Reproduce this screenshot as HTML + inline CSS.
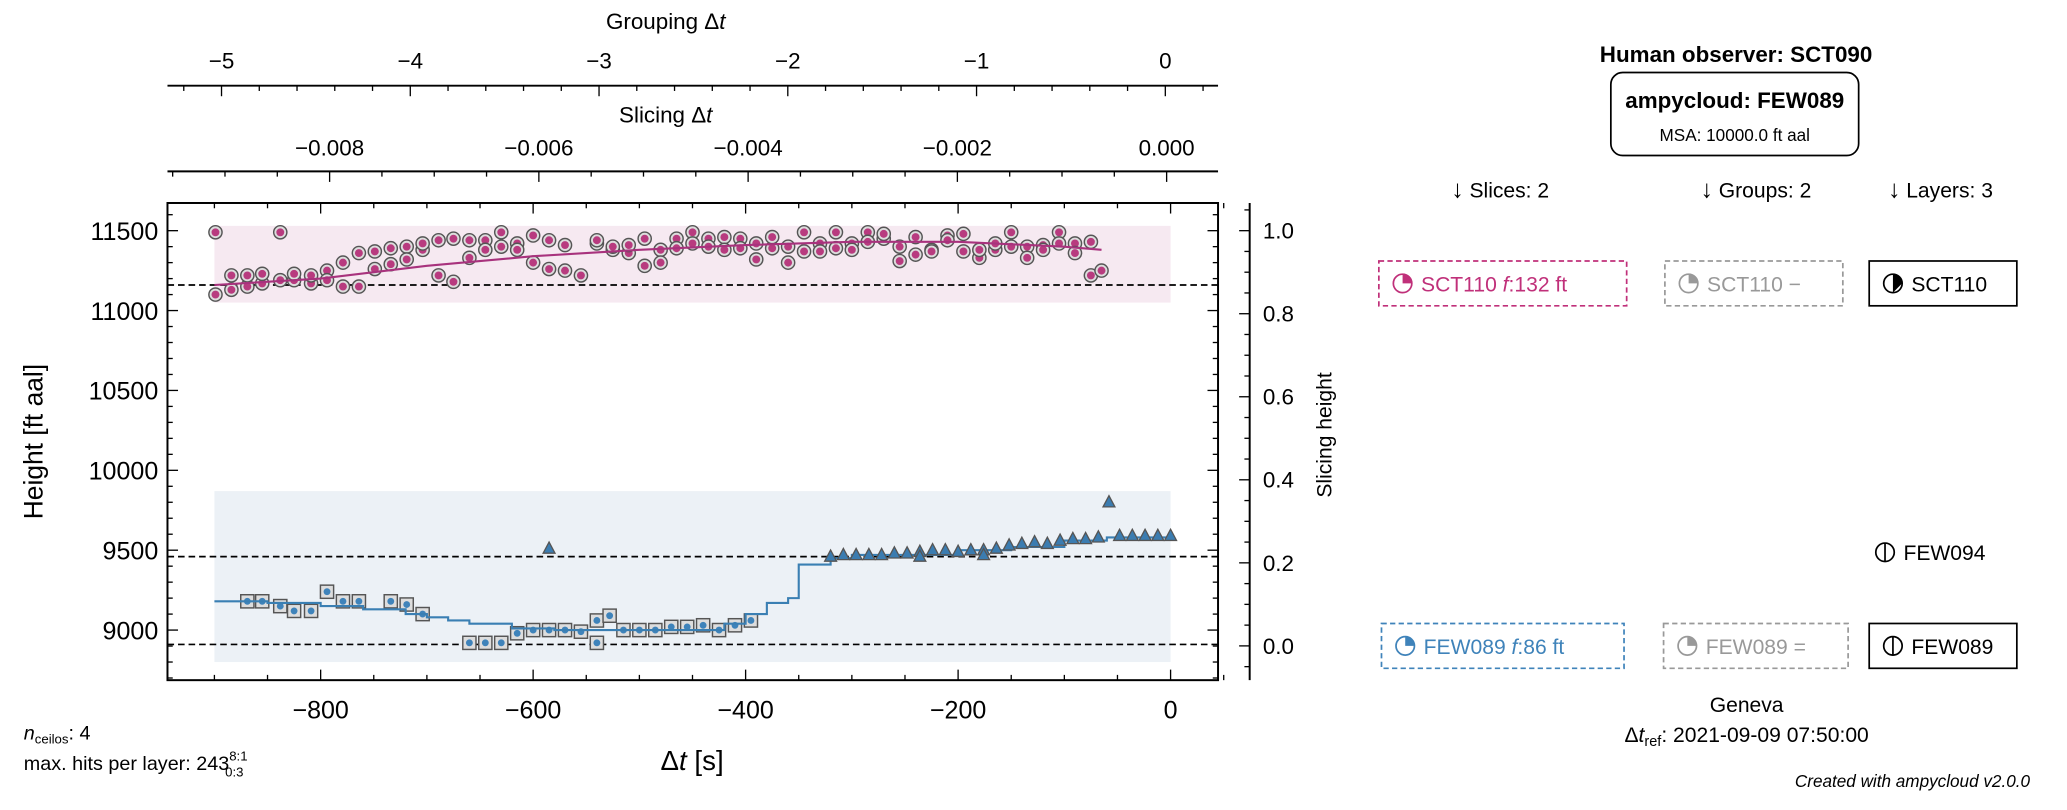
<!DOCTYPE html>
<html><head><meta charset="utf-8">
<style>
html,body{margin:0;padding:0;background:#fff;}
svg{display:block;font-family:"Liberation Sans","DejaVu Sans",sans-serif;}
</style></head>
<body>
<svg id="chart" width="2067" height="810" viewBox="0 0 1568 614.5" xmlns="http://www.w3.org/2000/svg">
<g id="bg"></g>
<g id="marks"></g>
<g id="axes"></g>
<g id="panel"></g>
</svg>
<script>
// ---- data ----
const pinkT = [-899,-899,-884,-884,-869,-869,-855,-855,-838,-838,-825,-825,-809,-809,-794,-794,-779,-779,-764,-764,-749,-749,-734,-734,-719,-719,-704,-704,-689,-689,-675,-675,-660,-660,-645,-645,-630,-630,-615,-615,-600,-600,-585,-585,-570,-570,-555,-540,-540,-525,-525,-510,-510,-495,-495,-480,-480,-465,-465,-450,-450,-435,-435,-420,-420,-405,-405,-390,-390,-375,-375,-360,-360,-345,-345,-330,-330,-315,-315,-300,-300,-285,-285,-270,-270,-255,-255,-240,-240,-225,-225,-210,-210,-195,-195,-180,-180,-165,-165,-150,-150,-135,-135,-120,-120,-105,-105,-90,-90,-75,-75,-65];
const pinkH = [11490,11100,11130,11220,11150,11220,11170,11230,11490,11190,11190,11230,11170,11220,11250,11190,11300,11150,11360,11150,11370,11260,11390,11290,11400,11320,11380,11420,11440,11220,11450,11180,11440,11330,11440,11380,11400,11490,11420,11380,11470,11300,11260,11440,11410,11250,11220,11420,11440,11380,11400,11360,11410,11280,11450,11380,11300,11450,11390,11490,11420,11450,11400,11460,11380,11450,11390,11320,11420,11390,11460,11400,11300,11490,11370,11420,11370,11490,11390,11420,11380,11490,11430,11450,11480,11310,11400,11460,11350,11380,11370,11470,11440,11370,11480,11330,11380,11380,11420,11490,11400,11400,11330,11410,11380,11490,11420,11420,11360,11430,11220,11250];
const pinkLineT = [-900,-800,-700,-600,-500,-400,-300,-200,-100,-65];
const pinkLineH = [11160,11200,11280,11340,11380,11410,11430,11430,11400,11380];
const sqT = [-869,-855,-838,-825,-809,-794,-779,-764,-734,-719,-704,-660,-645,-630,-615,-600,-585,-570,-555,-540,-528,-540,-515,-500,-485,-470,-455,-440,-425,-410,-395];
const sqH = [9180,9180,9150,9120,9120,9240,9180,9180,9180,9160,9100,8920,8920,8920,8980,9000,9000,9000,8990,9060,9090,8920,9000,9000,9000,9020,9020,9030,9000,9030,9060];
const triT = [-585,-320,-308,-296,-284,-272,-260,-248,-236,-224,-212,-200,-188,-176,-164,-152,-140,-128,-116,-104,-92,-80,-68,-58,-48,-36,-24,-12,0,-236,-176];
const triH = [9510,9460,9470,9470,9470,9470,9480,9480,9490,9500,9500,9490,9500,9500,9510,9530,9540,9550,9540,9560,9570,9570,9580,9800,9590,9590,9590,9590,9590,9460,9470];
const blueStepT = [-900,-850,-800,-760,-720,-700,-680,-660,-620,-580,-520,-440,-420,-400,-380,-360,-350,-320,-300,-200,-150,-100,-60,0];
const blueStepH = [9180,9170,9150,9130,9100,9080,9060,9040,9010,9000,9000,9000,9040,9100,9170,9200,9410,9450,9470,9500,9520,9560,9580,9590];
const dashLevels = [11160,9460,8910];
const xTicks = [-800,-600,-400,-200,0];
const yTicks = [9000,9500,10000,10500,11000,11500];
const rTicks = [0.0,0.2,0.4,0.6,0.8,1.0];
const slTicks = [-0.008,-0.006,-0.004,-0.002,0.000];
const grTicks = [-5,-4,-3,-2,-1,0];

// ---- scales ----
const L=127,R=924,T=154,B=516;
const X = t => 888 + 0.806*t;
const Y = h => 478 - (h-9000)*0.1212;
const YR = v => 490 - v*315;
const XS = v => 885 + v*79375;
const XG = v => 884 + v*143.2;

const NS="http://www.w3.org/2000/svg";
function mk(parent,tag,attrs,text){const e=document.createElementNS(NS,tag);for(const k in attrs)e.setAttribute(k,attrs[k]);if(text!==undefined)e.textContent=text;document.getElementById(parent).appendChild(e);return e;}

let e;
e=mk('bg','rect',{x:X(-900),y:Y(11530),width:X(0)-X(-900),height:Y(11050)-Y(11530),fill:'#f6e9f1'});


e=mk('bg','rect',{x:X(-900),y:Y(9870),width:X(0)-X(-900),height:Y(8800)-Y(9870),fill:'#ecf1f6'});



dashLevels.forEach(h=>{
 e=mk('marks','line',{x1:L,x2:R,y1:Y(h),y2:Y(h),stroke:'#000','stroke-width':1.3,'stroke-dasharray':'5,3'});
 
 
});

pinkT.forEach((t,i)=>{
 const g=mk('marks','g',{});
 
 
 const cx=X(t),cy=Y(pinkH[i]);
 const c1=document.createElementNS(NS,'circle');c1.setAttribute('cx',cx);c1.setAttribute('cy',cy);c1.setAttribute('r',5);c1.setAttribute('fill','#ddd');c1.setAttribute('stroke','#555');c1.setAttribute('stroke-width',1.1);g.appendChild(c1);
 const c2=document.createElementNS(NS,'circle');c2.setAttribute('cx',cx);c2.setAttribute('cy',cy);c2.setAttribute('r',3);c2.setAttribute('fill','#b83b7f');g.appendChild(c2);
});
e=mk('marks','polyline',{points:pinkLineT.map((t,i)=>X(t)+','+Y(pinkLineH[i])).join(' '),fill:'none',stroke:'#a8327d','stroke-width':1.6});



sqT.forEach((t,i)=>{
 const g=mk('marks','g',{});
 
 
 const cx=X(t),cy=Y(sqH[i]);
 const r=document.createElementNS(NS,'rect');r.setAttribute('x',cx-5);r.setAttribute('y',cy-5);r.setAttribute('width',10);r.setAttribute('height',10);r.setAttribute('fill','#ddd');r.setAttribute('stroke','#555');r.setAttribute('stroke-width',1.1);g.appendChild(r);
 const c=document.createElementNS(NS,'circle');c.setAttribute('cx',cx);c.setAttribute('cy',cy);c.setAttribute('r',2.6);c.setAttribute('fill','#3f83ba');g.appendChild(c);
});
let pts=[];blueStepT.forEach((t,i)=>{if(i>0)pts.push(X(t)+','+Y(blueStepH[i-1]));pts.push(X(t)+','+Y(blueStepH[i]));});
e=mk('marks','polyline',{points:pts.join(' '),fill:'none',stroke:'#3a7fb3','stroke-width':1.6});


triT.forEach((t,i)=>{
 const cx=X(t),cy=Y(triH[i]);
 e=mk('marks','polygon',{points:`${cx},${cy-5} ${cx-4.5},${cy+3.5} ${cx+4.5},${cy+3.5}`,fill:'#3b7cb0',stroke:'#555','stroke-width':1});
 
 
});

e=mk('axes','rect',{x:L,y:T,width:R-L,height:B-T,fill:'none',stroke:'#000','stroke-width':1.5});


for(let t=-1000;t<=50;t+=50){const x=X(t);if(x<L)continue;const maj=t%200===0;mk('axes','line',{x1:x,x2:x,y1:B,y2:B-(maj?8:4),stroke:'#000','stroke-width':1});mk('axes','line',{x1:x,x2:x,y1:T,y2:T+(maj?8:4),stroke:'#000','stroke-width':1});}
xTicks.forEach(t=>{e=mk('axes','text',{x:X(t),y:545,'font-size':19,'text-anchor':'middle'},t<0?'\u2212'+(-t):String(t));});
for(let h=8700;h<=11600;h+=100){const y=Y(h);if(y<T||y>B)continue;const maj=h%500===0;mk('axes','line',{x1:L,x2:L+(maj?8:4),y1:y,y2:y,stroke:'#000','stroke-width':1});mk('axes','line',{x1:R,x2:R-(maj?8:4),y1:y,y2:y,stroke:'#000','stroke-width':1});}
yTicks.forEach(h=>{e=mk('axes','text',{x:L-7,y:Y(h)+7,'font-size':19,'text-anchor':'end'},String(h));});
mk('axes','line',{x1:948,x2:948,y1:T,y2:B,stroke:'#000','stroke-width':1.5});
for(let v=-0.1;v<=1.1;v+=0.05){const y=YR(v);if(y<T||y>B)continue;const maj=Math.abs(Math.round(v*20)%4)===0;mk('axes','line',{x1:948,x2:948-(maj?8:4),y1:y,y2:y,stroke:'#000','stroke-width':1});}
rTicks.forEach(v=>{e=mk('axes','text',{x:958,y:YR(v)+6,'font-size':17},v.toFixed(1));});
mk('axes','line',{x1:L,x2:R,y1:130,y2:130,stroke:'#000','stroke-width':1.5});
for(let v=-0.0095;v<=0.0006;v+=0.0005){const x=XS(v);if(x<L||x>R)continue;const maj=Math.abs(Math.round(v*2000))%4===0;mk('axes','line',{x1:x,x2:x,y1:130,y2:130+(maj?8:4),stroke:'#000','stroke-width':1});}
slTicks.forEach(v=>{e=mk('axes','text',{x:XS(v),y:118,'font-size':17,'text-anchor':'middle'},(v<0?'\u2212':'')+Math.abs(v).toFixed(3));});
mk('axes','line',{x1:L,x2:R,y1:65,y2:65,stroke:'#000','stroke-width':1.5});
for(let v=-5.4;v<=0.3;v+=0.2){const x=XG(v);if(x<L||x>R)continue;const maj=Math.abs(Math.round(v*5))%5===0;mk('axes','line',{x1:x,x2:x,y1:65,y2:65+(maj?8:4),stroke:'#000','stroke-width':1});}
grTicks.forEach(v=>{e=mk('axes','text',{x:XG(v),y:52,'font-size':17,'text-anchor':'middle'},v<0?'\u2212'+(-v):String(v));});
</script>
<svg style="position:absolute;left:0;top:0" width="2067" height="810" viewBox="0 0 1568 614.5" xmlns="http://www.w3.org/2000/svg" font-family="Liberation Sans, DejaVu Sans, sans-serif">
 <text x="505" y="22" font-size="17" text-anchor="middle">Grouping Δ<tspan font-style="italic">t</tspan></text>
 <text x="505" y="93" font-size="17" text-anchor="middle">Slicing Δ<tspan font-style="italic">t</tspan></text>
 <text transform="translate(32,335) rotate(-90)" font-size="20" text-anchor="middle">Height [ft aal]</text>
 <text transform="translate(1010,330) rotate(-90)" font-size="16" text-anchor="middle">Slicing height</text>
 <text x="525" y="584" font-size="21" text-anchor="middle">Δ<tspan font-style="italic">t</tspan> [s]</text>
 <text x="18" y="561" font-size="15"><tspan font-style="italic">n</tspan><tspan font-size="10" dy="3">ceilos</tspan><tspan dy="-3">: 4</tspan></text>
 <text x="18" y="584" font-size="15">max. hits per layer: 243<tspan font-size="10" dy="-7">8:1</tspan><tspan font-size="10" dx="-17" dy="12">0:3</tspan></text>
 <text x="1317" y="47" font-size="17" font-weight="bold" text-anchor="middle">Human observer: SCT090</text>
 <rect x="1222" y="55" width="188" height="63" rx="9" fill="none" stroke="#000" stroke-width="1.3"/>
 <text x="1316" y="82" font-size="17" font-weight="bold" text-anchor="middle">ampycloud: FEW089</text>
 <text x="1316" y="107" font-size="13" text-anchor="middle">MSA: 10000.0 ft aal</text>
 <text x="1138" y="150" font-size="16" text-anchor="middle"><tspan font-size="19">↓</tspan> Slices: 2</text>
 <text x="1332" y="150" font-size="16" text-anchor="middle"><tspan font-size="19">↓</tspan> Groups: 2</text>
 <text x="1472" y="150" font-size="16" text-anchor="middle"><tspan font-size="19">↓</tspan> Layers: 3</text>

 <g>
  <rect x="1046" y="198" width="188" height="34" fill="none" stroke="#c0307a" stroke-width="1.3" stroke-dasharray="4,2.5"/>
  <circle cx="1064" cy="215" r="7" fill="#fff" stroke="#c0307a" stroke-width="1.3"/><path d="M1064,215 L1064,208 A7,7 0 0 1 1071,215 Z" fill="#c0307a"/>
  <text x="1078" y="221" font-size="16" fill="#c0307a">SCT110 <tspan font-style="italic">f</tspan>:132 ft</text>
 </g>
 <g>
  <rect x="1263" y="198" width="135" height="34" fill="none" stroke="#999" stroke-width="1.3" stroke-dasharray="4,2.5"/>
  <circle cx="1281" cy="215" r="7" fill="#fff" stroke="#999" stroke-width="1.3"/><path d="M1281,215 L1281,208 A7,7 0 0 1 1288,215 Z" fill="#999"/>
  <text x="1295" y="221" font-size="16" fill="#999">SCT110 −</text>
 </g>
 <g>
  <rect x="1418" y="198" width="112" height="34" fill="none" stroke="#000" stroke-width="1.3"/>
  <circle cx="1436" cy="215" r="7" fill="#fff" stroke="#000" stroke-width="1.3"/><path d="M1436,215 L1436,208 A7,7 0 0 1 1443,215 L1436,222 Z" fill="#000"/>
  <text x="1450" y="221" font-size="16">SCT110</text>
 </g>
 <g>
  <circle cx="1430" cy="419" r="7" fill="#fff" stroke="#000" stroke-width="1.3"/><line x1="1430" y1="412" x2="1430" y2="426" stroke="#000" stroke-width="1.3"/>
  <text x="1444" y="425" font-size="16">FEW094</text>
 </g>
 <g>
  <rect x="1048" y="473" width="184" height="34" fill="none" stroke="#3f83ba" stroke-width="1.3" stroke-dasharray="4,2.5"/>
  <circle cx="1066" cy="490" r="7" fill="#fff" stroke="#3f83ba" stroke-width="1.3"/><path d="M1066,490 L1066,483 A7,7 0 0 1 1073,490 Z" fill="#3f83ba"/>
  <text x="1080" y="496" font-size="16" fill="#3f83ba">FEW089 <tspan font-style="italic">f</tspan>:86 ft</text>
 </g>
 <g>
  <rect x="1262" y="473" width="140" height="34" fill="none" stroke="#999" stroke-width="1.3" stroke-dasharray="4,2.5"/>
  <circle cx="1280" cy="490" r="7" fill="#fff" stroke="#999" stroke-width="1.3"/><path d="M1280,490 L1280,483 A7,7 0 0 1 1287,490 Z" fill="#999"/>
  <text x="1294" y="496" font-size="16" fill="#999">FEW089 =</text>
 </g>
 <g>
  <rect x="1418" y="473" width="112" height="34" fill="none" stroke="#000" stroke-width="1.3"/>
  <circle cx="1436" cy="490" r="7" fill="#fff" stroke="#000" stroke-width="1.3"/><line x1="1436" y1="483" x2="1436" y2="497" stroke="#000" stroke-width="1.3"/>
  <text x="1450" y="496" font-size="16">FEW089</text>
 </g>
 <text x="1325" y="540" font-size="16" text-anchor="middle">Geneva</text>
 <text x="1325" y="563" font-size="16" text-anchor="middle">Δ<tspan font-style="italic">t</tspan><tspan font-size="11" dy="3">ref</tspan><tspan dy="-3">: 2021-09-09 07:50:00</tspan></text>
 <text x="1540" y="597" font-size="13" font-style="italic" text-anchor="end">Created with ampycloud v2.0.0</text>
</svg>
</body></html>
